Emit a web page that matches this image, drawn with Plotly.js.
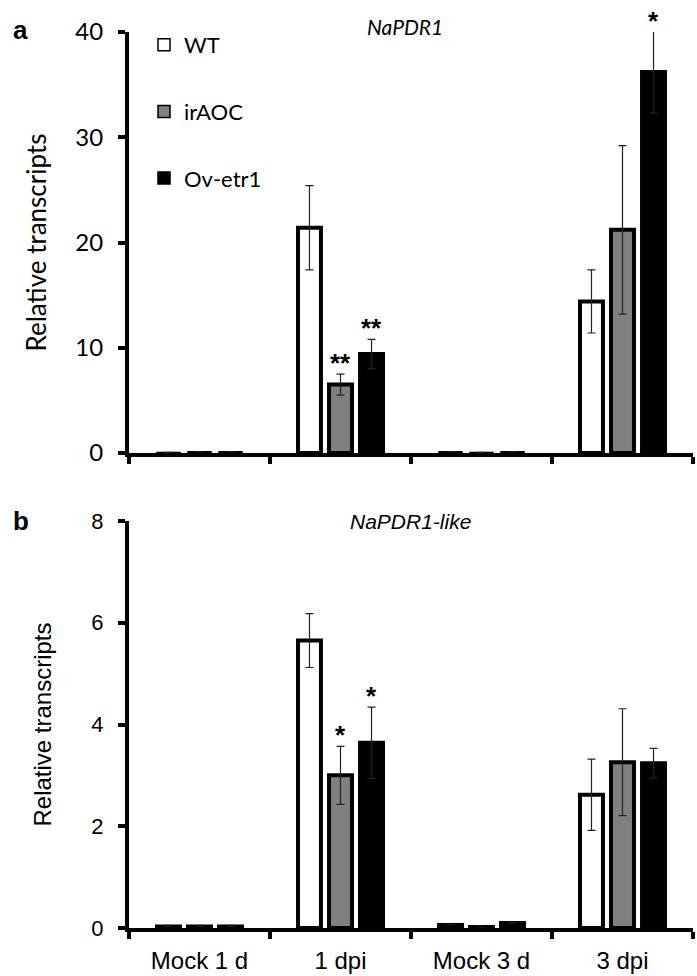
<!DOCTYPE html>
<html>
<head>
<meta charset="utf-8">
<script src="https://cdn.plot.ly/plotly-3.0.1.min.js"></script>
<style>html,body{margin:0;padding:0;background:#fff;}#chart{width:697px;height:976px;}</style>
</head>
<body>
<div id="chart"></div>
<script>
// ---------- data ----------
const categories = ['Mock 1 d', '1 dpi', 'Mock 3 d', '3 dpi'];
const seriesNames = ['WT', 'irAOC', 'Ov-etr1'];

// Panel a: NaPDR1
const pdr1WT = [0.05, 21.4, 0.12, 14.4];
const pdr1WTErr = [0, 4.0, 0, 3.0];
const pdr1irAOC = [0.12, 6.5, 0.05, 21.2];
const pdr1irAOCErr = [0, 1.0, 0, 8.0];
const pdr1Ov = [0.12, 9.4, 0.12, 36.2];
const pdr1OvErr = [0, 1.4, 0, 3.9];
const pdr1StarsirAOC = ['', '**', '', ''];
const pdr1StarsOv = ['', '**', '', '*'];

// Panel b: NaPDR1-like
const likeWT = [0.03, 5.65, 0.06, 2.62];
const likeWTErr = [0, 0.53, 0, 0.70];
const likeirAOC = [0.03, 3.0, 0.02, 3.26];
const likeirAOCErr = [0, 0.57, 0, 1.05];
const likeOv = [0.03, 3.64, 0.10, 3.24];
const likeOvErr = [0, 0.70, 0, 0.29];
const likeStarsirAOC = ['', '*', '', ''];
const likeStarsOv = ['', '*', '', ''];

const yTicksA = [0, 10, 20, 30, 40];
const yTicksB = [0, 2, 4, 6, 8];

// ---------- styles ----------
const fills = ['#ffffff', '#808080', '#000000'];
const fontA = 'Lato, "Open Sans", sans-serif';
const fontB = '"Liberation Sans", Arial, sans-serif';
const errStyle = {type: 'data', visible: true, color: '#222222', thickness: 1.2, width: 4};

function barTrace(name, idx, y, err, xa, ya, showLegend, lw) {
  return {
    type: 'bar', name: name, x: categories, y: y,
    xaxis: xa, yaxis: ya,
    marker: {color: fills[idx], line: {color: '#000', width: lw}},
    error_y: Object.assign({array: err}, errStyle),
    showlegend: showLegend, legendgroup: name,
    hoverinfo: 'skip'
  };
}

const lwA = [1.5, 4, 1.5, 4];
const data = [
  barTrace(seriesNames[0], 0, pdr1WT, pdr1WTErr, 'x', 'y', true, lwA),
  barTrace(seriesNames[1], 1, pdr1irAOC, pdr1irAOCErr, 'x', 'y', true, lwA),
  barTrace(seriesNames[2], 2, pdr1Ov, pdr1OvErr, 'x', 'y', true, lwA),
  barTrace(seriesNames[0], 0, likeWT, likeWTErr, 'x2', 'y2', false, 4),
  barTrace(seriesNames[1], 1, likeirAOC, likeirAOCErr, 'x2', 'y2', false, 4),
  barTrace(seriesNames[2], 2, likeOv, likeOvErr, 'x2', 'y2', false, 4)
];

// significance stars (anchored at top of error bar, kept inside axis range)
const annotations = [];
function addStars(stars, vals, errs, xref, yref, shift, yMax) {
  stars.forEach((s, i) => {
    if (!s) return;
    annotations.push({
      x: categories[i], y: Math.min(vals[i] + errs[i], yMax), xref: xref, yref: yref,
      text: s, showarrow: false, xshift: shift, yanchor: 'bottom', yshift: -6,
      font: {family: fontB, size: 26, color: '#000', weight: 'bold'}
    });
  });
}
addStars(pdr1StarsirAOC, pdr1irAOC, pdr1irAOCErr, 'x', 'y', 0, 40);
addStars(pdr1StarsOv, pdr1Ov, pdr1OvErr, 'x', 'y', 31, 40);
addStars(likeStarsirAOC, likeirAOC, likeirAOCErr, 'x2', 'y2', 0, 8);
addStars(likeStarsOv, likeOv, likeOvErr, 'x2', 'y2', 31, 8);

// panel titles & letters
annotations.push(
  {text: 'NaPDR1', xref: 'paper', yref: 'paper', x: 405/697, y: 1 - 12/976, showarrow: false,
   font: {family: fontA, size: 21, color: '#000', style: 'italic'}},
  {text: 'NaPDR1-like', xref: 'paper', yref: 'paper', x: 410/697, y: 1 - 521/976, showarrow: false,
   font: {family: fontB, size: 21, color: '#000', style: 'italic'}},
  {text: '<b>a</b>', xref: 'paper', yref: 'paper', x: 11/697, y: 1 - 13/976, showarrow: false,
   font: {family: fontB, size: 26, color: '#000'}},
  {text: '<b>b</b>', xref: 'paper', yref: 'paper', x: 11/697, y: 1 - 521/976, showarrow: false,
   font: {family: fontB, size: 26, color: '#000'}}
);

const xDom = [129/697, 693/697];
const axisCommon = {showline: true, linecolor: '#000', linewidth: 4, ticks: 'outside',
  ticklen: 7, tickwidth: 4, tickcolor: '#000', showgrid: false, zeroline: false, fixedrange: true};

const layout = {
  width: 697, height: 976,
  margin: {l: 0, r: 0, t: 0, b: 0},
  paper_bgcolor: '#fff', plot_bgcolor: '#fff',
  barmode: 'group', bargap: 0.34, bargroupgap: 0.26,
  showlegend: true,
  legend: {x: 144/697, y: 1 - 24/976, xanchor: 'left', yanchor: 'top',
    font: {family: fontA, size: 22, color: '#000'}, tracegroupgap: 35,
    bgcolor: 'rgba(0,0,0,0)', traceorder: 'grouped'},
  xaxis: Object.assign({}, axisCommon, {domain: xDom, anchor: 'y', type: 'category',
    categoryorder: 'array', categoryarray: categories, tickson: 'boundaries', showticklabels: false}),
  yaxis: Object.assign({}, axisCommon, {domain: [1 - 453/976, 1 - 32/976], anchor: 'x', range: [0, 40],
    tickvals: yTicksA, ticktext: yTicksA.map(String), ticklabelstandoff: 10,
    tickfont: {family: fontA, size: 24, color: '#000'},
    title: {text: 'Relative transcripts', font: {family: fontA, size: 26, color: '#000'}, standoff: 22}}),
  xaxis2: Object.assign({}, axisCommon, {domain: xDom, anchor: 'y2', type: 'category',
    categoryorder: 'array', categoryarray: categories, tickson: 'boundaries',
    tickfont: {family: fontB, size: 24, color: '#000'}, ticklabelstandoff: 8}),
  yaxis2: Object.assign({}, axisCommon, {domain: [1 - 928/976, 1 - 521/976], anchor: 'x2', range: [0, 8],
    tickvals: yTicksB, ticktext: yTicksB.map(String), ticklabelstandoff: 10,
    tickfont: {family: fontB, size: 22, color: '#000'},
    title: {text: 'Relative transcripts', font: {family: fontB, size: 24, color: '#000'}, standoff: 34}}),
  annotations: annotations
};

Plotly.newPlot('chart', data, layout, {staticPlot: true, displayModeBar: false});
</script>
</body>
</html>
